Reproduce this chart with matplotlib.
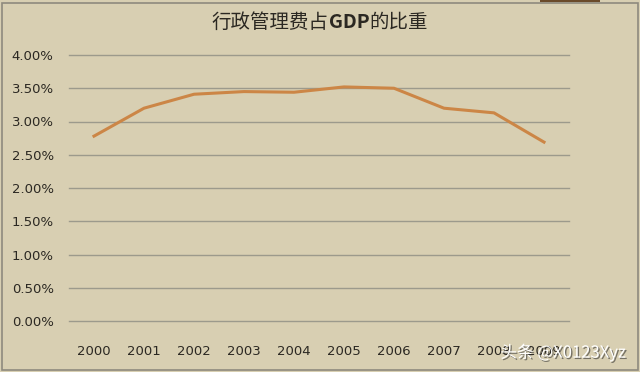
import matplotlib
matplotlib.use('Agg')
import matplotlib.pyplot as plt
import matplotlib.patheffects as pe
from matplotlib.patches import Rectangle
from matplotlib.ticker import FuncFormatter

# 数据
years = ['2000', '2001', '2002', '2003', '2004',
         '2005', '2006', '2007', '2008', '2009']
share = [2.78, 3.20, 3.41, 3.45, 3.44, 3.52, 3.50, 3.20, 3.13, 2.69]
y_ticks = [0.0, 0.5, 1.0, 1.5, 2.0, 2.5, 3.0, 3.5, 4.0]
title_parts = [('行政管理费占', 'normal'), ('GDP', 'bold'), ('的比重', 'normal')]

BG = '#D8CFB2'
LINE = '#CC8646'
GRID = '#9C9A8C'
TEXT = '#2B2822'
CJK = ['Noto Sans CJK SC', 'DejaVu Sans']

plt.rcParams['font.family'] = ['DejaVu Sans', 'Noto Sans CJK SC']

fig = plt.figure(figsize=(6.4, 3.72), dpi=100, facecolor=BG)
ax = fig.add_axes([69 / 640, 1 - 321 / 372, 500 / 640, 266 / 372])
ax.set_facecolor(BG)

x = list(range(len(years)))
ax.plot(x, share, color=LINE, linewidth=2.2, solid_joinstyle='round', zorder=3)

ax.set_xlim(-0.5, len(years) - 0.5)
ax.set_ylim(0, 4)
ax.set_yticks(y_ticks)
ax.yaxis.set_major_formatter(FuncFormatter(lambda v, p: f'{v:.2f}%'))
ax.set_xticks(x)
ax.set_xticklabels(years)

ax.grid(axis='y', color=GRID, linewidth=1.0)
for gl in ax.get_ygridlines():
    gl.set_clip_on(False)
ax.set_axisbelow(True)
for s in ax.spines.values():
    s.set_visible(False)
ax.tick_params(axis='both', length=0, labelsize=9.5, colors=TEXT)
ax.tick_params(axis='y', pad=11)
ax.tick_params(axis='x', pad=17)

# 标题 (GDP 加粗)
renderer = fig.canvas.get_renderer()
pieces = []
total = 0
for txt, w in title_parts:
    t = fig.text(0, 0.94, txt, ha='left', va='center', fontsize=14,
                 fontweight=w, color=TEXT, family=CJK)
    width = t.get_window_extent(renderer).width
    pieces.append((t, width))
    total += width
start = (fig.bbox.width - total) / 2
for t, width in pieces:
    t.set_x(start / fig.bbox.width)
    start += width

# 外框
fig.patches.append(Rectangle((2 / 640, 2 / 372), 636 / 640, 367 / 372,
                             transform=fig.transFigure, fill=False,
                             edgecolor='#8E8A7E', linewidth=1.2))
fig.patches.append(Rectangle((540 / 640, 370 / 372), 60 / 640, 2 / 372,
                             transform=fig.transFigure, facecolor='#6A4A2A',
                             edgecolor='none'))

# 水印
fig.text(0.978, 0.052, '头条 @X0123Xyz', ha='right', va='center', fontsize=12,
         color='white', family=CJK,
         path_effects=[pe.withSimplePatchShadow(offset=(1, -1),
                                                shadow_rgbFace='#333333',
                                                alpha=0.6)])

fig.savefig('out.png', dpi=100, facecolor=BG)
